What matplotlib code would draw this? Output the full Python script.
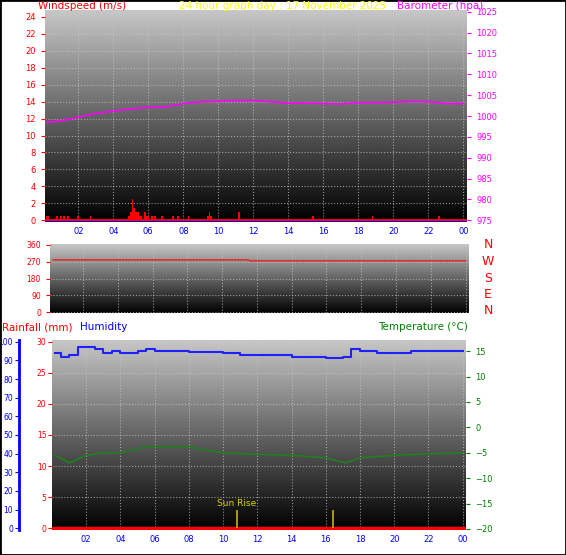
import numpy as np
import matplotlib
matplotlib.use('Agg')
import matplotlib.pyplot as plt

# ---- data ----
baro_h = [0.2, 1, 2, 3, 4, 5, 6, 7, 8, 9, 10, 11, 12, 13, 14, 15, 16, 17, 18, 19, 20, 21, 22, 23, 24]
baro = [998.5, 998.8, 999.7, 1000.6, 1001.2, 1001.7, 1002.1, 1002.2, 1003.0, 1003.4, 1003.5, 1003.7,
        1003.7, 1003.4, 1003.1, 1003.1, 1003.0, 1002.9, 1003.2, 1003.2, 1003.3, 1003.5, 1003.4, 1003.0, 1003.0]
wind_h = [0.2, 0.3, 0.8, 1.0, 1.2, 1.4, 2.0, 2.7, 4.9, 5.0, 5.1, 5.2, 5.3, 5.4, 5.5, 5.6, 5.8, 5.9, 6.0, 6.2, 6.4,
          6.8, 7.4, 7.7, 8.3, 9.4, 9.5, 9.6, 11.2, 15.4, 18.8, 22.6]
wind = [0.5, 0.5, 0.5, 0.5, 0.5, 0.5, 0.5, 0.5, 0.5, 1.0, 2.5, 1.5, 1.0, 1.0, 0.5, 0.5, 1.0, 0.5, 0.5, 0.5, 0.5,
        0.5, 0.5, 0.5, 0.5, 0.5, 1.0, 0.5, 1.0, 0.5, 0.5, 0.5]
dir_h = [0.3, 11.5, 11.6, 24]
wdir = [280, 280, 275, 275]
hum_h = [0.2, 0.5, 1.0, 1.5, 2.0, 2.5, 3.0, 3.5, 4.0, 5.0, 5.5, 6.0, 8.0, 9.0, 10.0, 11.0, 12.0, 13.0, 14.0,
         15.0, 16.0, 17.0, 17.5, 18.0, 19.0, 20.0, 21.0, 22.0, 24.0]
hum = [94, 92, 93, 97, 97, 96, 94, 95, 94, 95, 96, 95, 94.5, 94.5, 94, 93, 93, 93, 92,
       92, 91.5, 92, 96, 95, 94, 94, 95, 95, 95]
temp_h = [0.2, 1.0, 2.0, 3.0, 4.0, 5.0, 5.5, 8.0, 9.0, 10.0, 12.0, 14.0, 16.0, 17.2, 18.0, 20.0, 22.0, 24.0]
temp = [-5.5, -7.0, -5.5, -5.0, -5.0, -4.2, -3.8, -3.8, -4.5, -5.0, -5.3, -5.5, -6.0, -7.0, -6.0, -5.5, -5.2, -5.0]
sun_h = [10.8, 16.45]
hour_ticks = list(range(2, 25, 2))
hour_labels = ['%02d' % (h % 24) for h in hour_ticks]

W, H = 566, 555
fig = plt.figure(figsize=(W / 100, H / 100), dpi=100, facecolor='white')
fig.patches.append(plt.Rectangle((0, 0), 1, 1, transform=fig.transFigure, fill=False,
                                 edgecolor='black', linewidth=2))
grad = np.linspace(0.78, 0.0, 256).reshape(-1, 1)


def box(x0, y0, x1, y1):
    return [x0 / W, 1 - y1 / H, (x1 - x0) / W, (y1 - y0) / H]


def style(ax, x0h, x1h):
    ax.imshow(grad, cmap='gray', vmin=0, vmax=1, aspect='auto', extent=[0, 1, 0, 1],
              transform=ax.transAxes, zorder=0)
    ax.set_xlim(x0h, x1h)
    ax.grid(True, color='#c8c8c8', linestyle=':', linewidth=0.8, alpha=0.7)
    for s in ax.spines.values():
        s.set_visible(False)
    ax.tick_params(labelsize=6)


# top panel: wind + barometer
ax1 = fig.add_axes(box(45, 10, 467, 222))
style(ax1, 0.1, 24.2)
ax1.bar(wind_h, wind, width=0.1, color='red', zorder=3)
ax1.axhline(0, color='red', lw=1.5, zorder=3)
ax1.set_ylim(-0.2, 24.8)
ax1.set_yticks(range(0, 25, 2))
ax1.tick_params(axis='y', colors='red', labelcolor='red', length=3)
ax1.set_xticks(hour_ticks, hour_labels)
ax1.tick_params(axis='x', colors='blue', length=0)
ax1.axhline(-0.2, color='blue', lw=2, zorder=4)
ax1b = ax1.twinx()
ax1b.plot(baro_h, baro, color='magenta', lw=1.2)
ax1b.set_ylim(975 - 0.4, 1025.4)
ax1b.set_yticks(range(975, 1026, 5))
ax1b.tick_params(colors='magenta', labelsize=6, length=3)
for s in ax1b.spines.values():
    s.set_visible(False)
fig.text(38 / W, 1 - 6 / H, 'Windspeed (m/s)', color='red', fontsize=7.5, va='center')
fig.text(0.5, 1 - 6 / H, '24 hour graph day : 17 November 2025', color='yellow', fontsize=7.5,
         ha='center', va='center')
fig.text(483 / W, 1 - 6 / H, 'Barometer (hpa)', color='magenta', fontsize=7.5, ha='right', va='center')

# middle panel: wind direction
ax2 = fig.add_axes(box(50, 244, 469, 313))
style(ax2, 0.1, 24.2)
ax2.plot(dir_h, wdir, color='#e03030', lw=1.2, zorder=3)
ax2.set_ylim(-5, 365)
ax2.set_yticks([0, 90, 180, 270, 360])
ax2.set_xticks(hour_ticks, [])
ax2.tick_params(axis='x', length=0)
ax2.tick_params(axis='y', colors='red', length=3, labelsize=5.5)
for i, lab in enumerate(['N', 'W', 'S', 'E', 'N']):
    fig.text(488 / W, 1 - (245 + i * 16.5) / H, lab, color='red', fontsize=9, ha='center', va='center')

# bottom panel: rainfall, humidity, temperature
ax3 = fig.add_axes(box(52, 340, 466, 530))
style(ax3, 0.0, 24.2)
ax3.set_ylim(-0.3, 30.3)
ax3.set_yticks(range(0, 31, 5))
ax3.tick_params(axis='y', colors='red', length=3, labelsize=5.5, pad=1)
ax3.axhline(0, color='red', lw=2.5, zorder=4)
ax3.vlines(sun_h, 0, 3, color='#c8b400', lw=1.2, zorder=4)
ax3.text(sun_h[0], 3.2, 'Sun Rise', color='#d8d000', fontsize=6.5, ha='center', va='bottom', zorder=5)
ax3.set_xticks(hour_ticks, hour_labels)
ax3.tick_params(axis='x', colors='blue', length=0)
ax3.grid(True, color='#c8c8c8', linestyle=':', linewidth=0.8, alpha=0.7)

ax3h = ax3.twinx()
ax3h.plot(hum_h, hum, color='#2020ff', lw=1.5, drawstyle='steps-post')
ax3h.set_ylim(-1, 101)
ax3h.yaxis.tick_left()
ax3h.spines['left'].set_position(('outward', 24))
ax3h.spines['left'].set_color('blue')
ax3h.spines['left'].set_linewidth(2)
for s in ['right', 'top', 'bottom']:
    ax3h.spines[s].set_visible(False)
ax3h.set_yticks(range(0, 101, 10))
ax3h.tick_params(colors='blue', labelsize=5.5, length=3, pad=1)

ax3t = ax3.twinx()
ax3t.plot(temp_h, temp, color='#208020', lw=1.2)
ax3t.set_ylim(-20.2, 17.2)
ax3t.set_yticks(range(-20, 16, 5))
ax3t.tick_params(colors='green', labelsize=6, length=3)
for s in ax3t.spines.values():
    s.set_visible(False)
fig.text(2 / W, 1 - 327 / H, 'Rainfall (mm)', color='red', fontsize=7.5, va='center')
fig.text(80 / W, 1 - 327 / H, 'Humidity', color='blue', fontsize=7.5, va='center')
fig.text(378 / W, 1 - 327 / H, 'Temperature (°C)', color='green', fontsize=7.5, va='center')

fig.savefig('out.png', dpi=100)
